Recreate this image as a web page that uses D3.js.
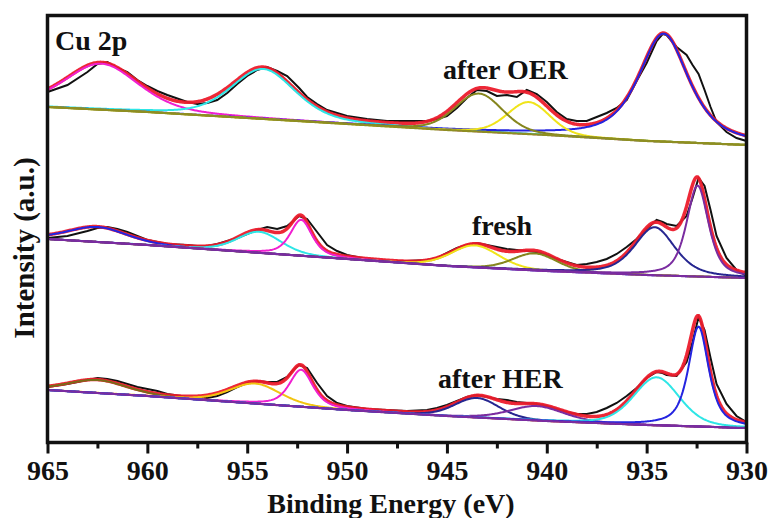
<!DOCTYPE html>
<html>
<head>
<meta charset="utf-8">
<script src="https://cdn.jsdelivr.net/npm/d3@7/dist/d3.min.js"></script>
<style>
  body { margin: 0; background: #fff; }
  text { font-family: 'Liberation Serif', 'Times New Roman', serif; font-weight: bold; fill: #111; }
</style>
</head>
<body>
<svg id="chart" width="771" height="518"></svg>
<script>
// measured spectra (binding energy in eV, intensity in a.u.)
const energy = [965, 964, 963, 962.5, 962, 961.5, 961, 960.5, 960, 959.5, 959, 958, 957.5, 957, 956.5, 956,
  955.5, 955, 954.5, 954, 953.5, 953, 952.7, 952.4, 952, 951.5, 951, 950.5, 950, 949, 948, 947, 946, 945.5,
  945, 944.5, 944, 943.5, 943, 942.5, 942, 941.5, 941, 940.5, 940, 939.5, 939, 938.5, 938, 937.5, 937, 936.5,
  936, 935.5, 935, 934.5, 934.2, 934, 933.5, 933, 932.7, 932.4, 932.1, 931.8, 931.5, 931, 930.5, 930];
const oerData = [351, 358, 371, 379, 381, 375, 371, 363, 357, 352, 348, 341, 339, 340, 343, 350,
  359, 367, 373, 376, 372, 367, 361, 355, 346, 339, 333, 330, 327, 324, 322, 322, 322, 324,
  327, 335, 345, 353, 352, 347, 348, 346, 353, 349, 341, 331, 324, 322, 322, 326, 330, 335,
  343, 362, 380, 402, 409, 408, 396, 388, 378, 369, 353, 336, 321, 311, 305, 302];
const freshData = [205, 207, 212, 215, 216, 214, 211, 207, 203, 201, 199, 198, 197, 197, 199, 202,
  205, 209, 213, 216, 214, 217, 222, 227, 224, 211, 198, 192, 188, 184, 182, 182, 183, 185,
  190, 195, 198, 200, 198, 196, 194, 193, 192, 191, 188, 184, 181, 178, 179, 181, 184, 189,
  196, 204, 214, 223, 221, 219, 217, 227, 245, 265, 257, 233, 207, 185, 173, 167];
const herData = [56, 59, 63, 65, 64, 62, 59, 56, 54, 52, 49, 46, 45, 45, 47, 51,
  56, 60, 62, 61, 61, 66, 73, 78, 75, 60, 47, 40, 37, 34, 33, 32, 33, 35,
  38, 42, 46, 48, 46, 44, 43, 41, 40, 39, 37, 34, 31, 29, 29, 31, 35, 40,
  47, 55, 65, 71, 70, 68, 67, 81, 101, 126, 113, 85, 59, 39, 27, 21];

// fitted backgrounds
const bgEnergy = [965, 960, 955, 950, 945, 940, 935, 930];
const oerBg = [336, 331, 325, 319, 313, 308, 302, 298];
const freshBg = [204, 198, 191, 184, 177, 172, 168, 165];
const herBg = [53, 47, 40, 33, 27, 22, 18, 15];

// fitted components: centre (eV), height, FWHM (eV), Lorentzian fraction
const oerCentre = [962.3, 954.2, 934.15, 940.9, 943.4];
const oerHeight = [46, 50, 108, 32, 38];
const oerFwhm = [4.4, 3.8, 3.0, 2.5, 2.8];
const oerMix = [0.4, 0.4, 0.7, 0.2, 0.2];

const freshCentre = [962.5, 954.4, 952.3, 943.6, 940.6, 934.6, 932.45];
const freshHeight = [15, 21, 36, 22, 17, 48, 91];
const freshFwhm = [3.5, 2.6, 1.3, 2.8, 2.6, 2.4, 1.3];
const freshMix = [0.3, 0.3, 0.6, 0.2, 0.2, 0.5, 0.6];

const herCentre = [962.5, 954.6, 952.3, 943.5, 940.5, 934.5, 932.4];
const herHeight = [13, 20, 37, 19.5, 14.4, 48, 100];
const herFwhm = [3.5, 3.0, 1.4, 2.6, 3.2, 2.7, 1.2];
const herMix = [0.3, 0.3, 0.6, 0.2, 0.3, 0.3, 0.7];

const xTicks = [965, 960, 955, 950, 945, 940, 935, 930];
const xMinor = [962.5, 957.5, 952.5, 947.5, 942.5, 937.5, 932.5];

const MAGENTA = '#f020d0', CYAN = '#2ee6e6', YELLOW = '#f0e41a', OLIVE = '#86861e',
  BLUE = '#2424e0', NAVY = '#262690', PURPLE = '#7a2ca0', GOLD = '#f2c410', BROWN = '#7a6a18';

const spectra = [
  {data: oerData, bg: oerBg, centre: oerCentre, height: oerHeight, fwhm: oerFwhm, mix: oerMix,
    colors: [MAGENTA, CYAN, BLUE, YELLOW, OLIVE], bgColor: '#8e8e22'},
  {data: freshData, bg: freshBg, centre: freshCentre, height: freshHeight, fwhm: freshFwhm, mix: freshMix,
    colors: [BLUE, CYAN, MAGENTA, YELLOW, OLIVE, NAVY, PURPLE], bgColor: PURPLE},
  {data: herData, bg: herBg, centre: herCentre, height: herHeight, fwhm: herFwhm, mix: herMix,
    colors: [BROWN, GOLD, MAGENTA, NAVY, PURPLE, CYAN, BLUE], bgColor: PURPLE},
];

const svg = d3.select('#chart');
const frameL = 47.5, frameR = 746.5, frameT = 15.5, frameB = 442.5;

const x = d3.scaleLinear().domain([965, 930]).range([frameL, frameR]);
const y = d3.scaleLinear().domain([0, 427]).range([443, 16]);

function peak(e, c, h, w, m) {
  const r = (e - c) / w;
  return h * ((1 - m) * Math.exp(-4 * Math.LN2 * r * r) + m / (1 + 4 * r * r));
}

const grid = d3.range(930, 965.0001, 0.05);
const line = d3.line().x(d => x(d[0])).y(d => y(d[1]));

svg.append('defs').append('clipPath').attr('id', 'plot')
  .append('rect').attr('x', frameL).attr('y', frameT).attr('width', frameR - frameL).attr('height', frameB - frameT);

const g = svg.append('g').attr('clip-path', 'url(#plot)');

spectra.forEach(s => {
  const bg = d3.scaleLinear().domain(bgEnergy).range(s.bg);

  // measured data
  g.append('path')
    .datum(energy.map((e, i) => [e, s.data[i]]))
    .attr('d', line)
    .attr('fill', 'none')
    .attr('stroke', '#111')
    .attr('stroke-width', 2);

  // envelope
  const env = grid.map(e => [e, bg(e) + d3.sum(s.centre, (c, i) => peak(e, c, s.height[i], s.fwhm[i], s.mix[i]))]);
  g.append('path')
    .datum(env)
    .attr('d', line)
    .attr('fill', 'none')
    .attr('stroke', '#ec1c2c')
    .attr('stroke-width', 3.5)
    .attr('stroke-opacity', 0.95);

  // components
  s.centre.forEach((c, i) => {
    g.append('path')
      .datum(grid.map(e => [e, bg(e) + peak(e, c, s.height[i], s.fwhm[i], s.mix[i])]))
      .attr('d', line)
      .attr('fill', 'none')
      .attr('stroke', s.colors[i])
      .attr('stroke-width', 2);
  });

  // background
  g.append('path')
    .datum(grid.map(e => [e, bg(e)]))
    .attr('d', line)
    .attr('fill', 'none')
    .attr('stroke', s.bgColor)
    .attr('stroke-width', 2.2);
});

// frame
svg.append('rect')
  .attr('x', frameL).attr('y', frameT)
  .attr('width', frameR - frameL).attr('height', frameB - frameT)
  .attr('fill', 'none')
  .attr('stroke', '#111')
  .attr('stroke-width', 3.5);

// x axis
const axis = svg.append('g')
  .attr('transform', `translate(0,${frameB})`)
  .call(d3.axisBottom(x).tickValues(xTicks).tickSize(11).tickSizeOuter(0).tickPadding(6.5).tickFormat(d3.format('d')));
axis.select('.domain').remove();
axis.selectAll('line').attr('stroke', '#111').attr('stroke-width', 3);
axis.selectAll('text')
  .attr('font-size', 28)
  .attr('font-family', "'Liberation Serif', serif")
  .attr('font-weight', 'bold')
  .attr('fill', '#111');

const minor = svg.append('g')
  .attr('transform', `translate(0,${frameB})`)
  .call(d3.axisBottom(x).tickValues(xMinor).tickSize(6).tickSizeOuter(0).tickFormat(''));
minor.select('.domain').remove();
minor.selectAll('line').attr('stroke', '#111').attr('stroke-width', 3);

// labels
svg.append('text')
  .attr('x', 391).attr('y', 513)
  .attr('text-anchor', 'middle')
  .attr('font-size', 28)
  .text('Binding Energy (eV)');

svg.append('text')
  .attr('transform', 'translate(34,248) rotate(-90)')
  .attr('text-anchor', 'middle')
  .attr('font-size', 29)
  .text('Intensity (a.u.)');

svg.append('text').attr('x', 55).attr('y', 50).attr('font-size', 28).text('Cu 2p');
svg.append('text').attr('x', 443).attr('y', 79).attr('font-size', 28).text('after OER');
svg.append('text').attr('x', 472).attr('y', 235).attr('font-size', 28).text('fresh');
svg.append('text').attr('x', 438).attr('y', 388).attr('font-size', 28).text('after HER');
</script>
</body>
</html>
